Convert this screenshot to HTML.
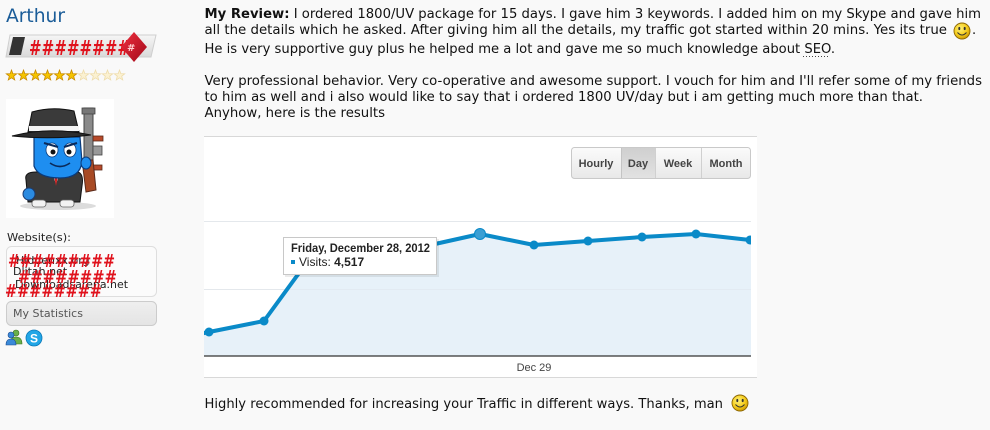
<!DOCTYPE html>
<html>
<head>
<meta charset="utf-8">
<style>
html,body{margin:0;padding:0;background:#f9f9f9;}
body{width:990px;height:430px;overflow:hidden;}
svg{display:block;}
</style>
</head>
<body>
<svg width="990" height="430" viewBox="0 0 990 430" xmlns="http://www.w3.org/2000/svg">
<defs>
  <radialGradient id="smile" cx="40%" cy="35%" r="70%">
    <stop offset="0" stop-color="#fff27a"/>
    <stop offset="0.6" stop-color="#f5cc1c"/>
    <stop offset="1" stop-color="#c99400"/>
  </radialGradient>
  <linearGradient id="btn" x1="0" y1="0" x2="0" y2="1">
    <stop offset="0" stop-color="#fbfbfb"/>
    <stop offset="1" stop-color="#e8e8e8"/>
  </linearGradient>
  <linearGradient id="btnOn" x1="0" y1="0" x2="0" y2="1">
    <stop offset="0" stop-color="#cfcfcf"/>
    <stop offset="1" stop-color="#e2e2e2"/>
  </linearGradient>
  <linearGradient id="rank" x1="0" y1="0" x2="0" y2="1">
    <stop offset="0" stop-color="#f6f6f6"/>
    <stop offset="1" stop-color="#d9d9d9"/>
  </linearGradient>
  <linearGradient id="dia" x1="0" y1="0" x2="1" y2="1">
    <stop offset="0" stop-color="#f03040"/>
    <stop offset="1" stop-color="#a00818"/>
  </linearGradient>
  <linearGradient id="stat" x1="0" y1="0" x2="0" y2="1">
    <stop offset="0" stop-color="#efefef"/>
    <stop offset="1" stop-color="#e4e4e4"/>
  </linearGradient>
  <polygon id="star" points="0,-5.5 1.35,-1.86 5.23,-1.7 2.19,0.71 3.23,4.45 0,2.3 -3.23,4.45 -2.19,0.71 -5.23,-1.7 -1.35,-1.86"/>
  <clipPath id="plot"><rect x="204" y="136" width="547" height="220"/></clipPath>
</defs>

<rect width="990" height="430" fill="#f9f9f9"/>

<!-- ================= SIDEBAR ================= -->
<text x="6" y="22" font-family="'DejaVu Sans', Verdana, sans-serif" font-size="19" fill="#1a5c98" textLength="59" lengthAdjust="spacingAndGlyphs">Arthur</text>

<!-- rank bar -->
<polygon points="10,35 156,35 151,57 6,57" fill="url(#rank)" stroke="#cfcfcf" stroke-width="1"/>
<polygon points="13,37 25,37 21,55 9,55" fill="#333"/>
<text x="29" y="55" font-family="'DejaVu Sans', Verdana, sans-serif" font-weight="bold" font-size="20" fill="#e0121c" textLength="101" lengthAdjust="spacingAndGlyphs">########</text>
<polygon points="134,32 147,47 134,62 121,47" fill="url(#dia)"/>
<text x="127" y="51" font-family="'DejaVu Sans', sans-serif" font-weight="bold" font-size="10" fill="#ffd0d0">#</text>

<!-- stars -->
<g stroke-width="0.8">
  <use href="#star" x="11.5" y="75.5" fill="#f5c400" stroke="#c88a00"/>
  <use href="#star" x="23.5" y="75.5" fill="#f5c400" stroke="#c88a00"/>
  <use href="#star" x="35.5" y="75.5" fill="#f5c400" stroke="#c88a00"/>
  <use href="#star" x="47.5" y="75.5" fill="#f5c400" stroke="#c88a00"/>
  <use href="#star" x="59.5" y="75.5" fill="#f5c400" stroke="#c88a00"/>
  <use href="#star" x="71.5" y="75.5" fill="#f5c400" stroke="#c88a00"/>
  <use href="#star" x="83.5" y="75.5" fill="#fbf1d2" stroke="#eedcaa"/>
  <use href="#star" x="95.5" y="75.5" fill="#fbf1d2" stroke="#eedcaa"/>
  <use href="#star" x="107.5" y="75.5" fill="#fbf1d2" stroke="#eedcaa"/>
  <use href="#star" x="119.5" y="75.5" fill="#fbf1d2" stroke="#eedcaa"/>
</g>

<!-- avatar -->
<rect x="6" y="99" width="108" height="119" fill="#ffffff"/>
<ellipse cx="58" cy="206" rx="38" ry="4" fill="#dcdcdc"/>
<!-- gun -->
<rect x="84" y="108" width="9" height="58" fill="#8a8a8a" stroke="#444" stroke-width="1"/>
<rect x="82" y="108" width="13" height="6" fill="#777" stroke="#444" stroke-width="0.8"/>
<rect x="93" y="136" width="10" height="5" fill="#b84a2a" stroke="#5a2a1a" stroke-width="0.8"/>
<rect x="93" y="146" width="9" height="9" fill="#999" stroke="#444" stroke-width="0.8"/>
<rect x="93" y="165" width="9" height="5" fill="#b84a2a" stroke="#5a2a1a" stroke-width="0.8"/>
<polygon points="82,160 93,160 96,190 86,192" fill="#a84a24" stroke="#5a2a1a" stroke-width="1"/>
<!-- body -->
<path d="M26,180 Q24,172 36,172 L78,172 Q84,174 82,186 L80,202 L28,202 Z" fill="#3a3a3a" stroke="#111" stroke-width="1"/>
<polygon points="52,173 60,173 56,184" fill="#fff"/>
<polygon points="54,176 58,176 56,186" fill="#d02020"/>
<ellipse cx="29" cy="194" rx="6" ry="6" fill="#2a8ae0" stroke="#1a3a70" stroke-width="1"/>
<rect x="32" y="200" width="14" height="7" rx="3" fill="#f2f2f2" stroke="#666" stroke-width="0.8"/>
<rect x="60" y="200" width="14" height="7" rx="3" fill="#f2f2f2" stroke="#666" stroke-width="0.8"/>
<!-- head -->
<path d="M34,137 L80,137 L82,162 Q80,178 60,178 Q38,178 34,166 Z" fill="#1e8ef0" stroke="#0a3a7a" stroke-width="1.2"/>
<ellipse cx="52" cy="150" rx="6" ry="7" fill="#fff" stroke="#0a3a7a" stroke-width="0.8"/>
<ellipse cx="70" cy="150" rx="6" ry="7" fill="#fff" stroke="#0a3a7a" stroke-width="0.8"/>
<circle cx="53" cy="152" r="2.5" fill="#111"/>
<circle cx="69" cy="152" r="2.5" fill="#111"/>
<path d="M44,143 L58,147" stroke="#0a2a5a" stroke-width="2"/>
<path d="M64,147 L77,143" stroke="#0a2a5a" stroke-width="2"/>
<path d="M50,163 Q60,170 70,163" stroke="#0a2a5a" stroke-width="1.6" fill="none"/>
<ellipse cx="86" cy="163" rx="5" ry="6" fill="#1e8ef0" stroke="#0a3a7a" stroke-width="1"/>
<!-- hat -->
<path d="M28,132 L32,112 Q52,106 74,111 L79,132 Z" fill="#3a3a3a" stroke="#111" stroke-width="1"/>
<rect x="29" y="126" width="50" height="5" fill="#f4f4f4"/>
<path d="M12,136 Q50,126 91,135 Q52,140 12,136 Z" fill="#2c2c2c" stroke="#111" stroke-width="1"/>

<!-- websites -->
<text x="7" y="241" font-family="'DejaVu Sans', Verdana, sans-serif" font-size="11" fill="#222" textLength="64" lengthAdjust="spacingAndGlyphs">Website(s):</text>
<rect x="6.5" y="246.5" width="150" height="50" rx="5" fill="#fbfbfb" stroke="#dedede"/>
<g font-family="'DejaVu Sans', Verdana, sans-serif" font-size="11" fill="#222">
  <text x="16" y="264">Hiddenxx.org</text>
  <text x="13" y="275">Dlitah.net</text>
  <text x="15" y="288" textLength="113" lengthAdjust="spacingAndGlyphs">Downloadsarena.net</text>
</g>
<g font-family="'DejaVu Sans', Verdana, sans-serif" font-weight="bold" font-size="18" fill="#e0121c">
  <text x="8" y="267" textLength="107" lengthAdjust="spacingAndGlyphs">#########</text>
  <text x="18" y="283" textLength="99" lengthAdjust="spacingAndGlyphs">########</text>
  <text x="5" y="297" textLength="97" lengthAdjust="spacingAndGlyphs">########</text>
</g>

<!-- my statistics -->
<rect x="6.5" y="301.5" width="150" height="24" rx="5" fill="url(#stat)" stroke="#cccccc"/>
<text x="13" y="317" font-family="'DejaVu Sans', Verdana, sans-serif" font-size="11" fill="#555" textLength="70" lengthAdjust="spacingAndGlyphs">My Statistics</text>

<!-- msn icon -->
<circle cx="16" cy="333" r="3" fill="#6ab04a" stroke="#3a7020" stroke-width="0.6"/>
<path d="M10,344 Q10,337 16,337 Q22,337 22,344 Z" fill="#6ab04a" stroke="#3a7020" stroke-width="0.6"/>
<circle cx="11" cy="335" r="3" fill="#3a8ad8" stroke="#1a4a90" stroke-width="0.6"/>
<path d="M6,345 Q6,339 11,339 Q16,339 16,345 Z" fill="#3a8ad8" stroke="#1a4a90" stroke-width="0.6"/>
<!-- skype icon -->
<circle cx="34" cy="338" r="8" fill="#22a6e6" stroke="#0a78b8" stroke-width="0.8"/>
<text x="34" y="342.5" text-anchor="middle" font-family="'Liberation Sans', Arial, sans-serif" font-weight="bold" font-size="12" fill="#fff">S</text>

<!-- ================= REVIEW TEXT ================= -->
<g font-family="'DejaVu Sans', Verdana, sans-serif" font-size="13" fill="#111">
  <text x="204.5" y="18" textLength="776.5" lengthAdjust="spacingAndGlyphs"><tspan font-weight="bold">My Review:</tspan> I ordered 1800/UV package for 15 days. I gave him 3 keywords. I added him on my Skype and gave him</text>
  <text x="204.5" y="34" textLength="742.5" lengthAdjust="spacingAndGlyphs">all the details which he asked. After giving him all the details, my traffic got started within 20 mins. Yes its true</text>
  <text x="972" y="34">.</text>
  <text x="204.5" y="53" textLength="630.5" lengthAdjust="spacingAndGlyphs">He is very supportive guy plus he helped me a lot and gave me so much knowledge about SEO.</text>
  <text x="204.5" y="85" textLength="777.5" lengthAdjust="spacingAndGlyphs">Very professional behavior. Very co-operative and awesome support. I vouch for him and I'll refer some of my friends</text>
  <text x="204.5" y="101" textLength="718.5" lengthAdjust="spacingAndGlyphs">to him as well and i also would like to say that i ordered 1800 UV/day but i am getting much more than that.</text>
  <text x="204.5" y="117" textLength="180.5" lengthAdjust="spacingAndGlyphs">Anyhow, here is the results</text>
  <text x="204.5" y="408" textLength="518.5" lengthAdjust="spacingAndGlyphs">Highly recommended for increasing your Traffic in different ways. Thanks, man</text>
</g>
<line x1="803" y1="56.5" x2="829" y2="56.5" stroke="#444" stroke-width="1" stroke-dasharray="1,2"/>

<!-- smileys -->
<g>
  <circle cx="962" cy="31" r="8" fill="url(#smile)" stroke="#8a6400" stroke-width="0.9"/>
  <ellipse cx="959.3" cy="28.5" rx="1" ry="1.6" fill="#333"/>
  <ellipse cx="964.7" cy="28.5" rx="1" ry="1.6" fill="#333"/>
  <path d="M957.5,32.5 Q962,37.5 966.5,32.5" stroke="#333" stroke-width="1" fill="none"/>
</g>
<g>
  <circle cx="740" cy="403" r="8" fill="url(#smile)" stroke="#8a6400" stroke-width="0.9"/>
  <ellipse cx="737.3" cy="400.5" rx="1" ry="1.6" fill="#333"/>
  <ellipse cx="742.7" cy="400.5" rx="1" ry="1.6" fill="#333"/>
  <path d="M735.5,404.5 Q740,409.5 744.5,404.5" stroke="#333" stroke-width="1" fill="none"/>
</g>

<!-- ================= CHART ================= -->
<rect x="204" y="136" width="553" height="241" fill="#ffffff"/>
<line x1="204" y1="136.5" x2="757" y2="136.5" stroke="#d8d8d8"/>
<line x1="204" y1="377.5" x2="757" y2="377.5" stroke="#d8d8d8"/>
<line x1="204" y1="221.5" x2="751" y2="221.5" stroke="#ebebeb"/>
<line x1="204" y1="289.5" x2="751" y2="289.5" stroke="#ebebeb"/>

<g clip-path="url(#plot)">
  <polygon points="204,333 209,332 264,321 318,247 372,243 426,246 480,234 534,245 588,241 642,237 696,234 750,240 751,240 751,356 204,356" fill="#e7f1f9"/>
  <line x1="204" y1="289.5" x2="751" y2="289.5" stroke="#dfe6ec" stroke-opacity="0.6"/>
  <line x1="204" y1="221.5" x2="751" y2="221.5" stroke="#dfe6ec" stroke-opacity="0.6"/>
  <polyline points="200,334 209,332 264,321 318,247 372,243 426,246 480,234 534,245 588,241 642,237 696,234 750,240 755,241" fill="none" stroke="#0a8ac8" stroke-width="4" stroke-linejoin="round"/>
  <g fill="#0a8ac8">
    <circle cx="209" cy="332" r="4.5"/>
    <circle cx="264" cy="321" r="4.5"/>
    <circle cx="318" cy="247" r="4.5"/>
    <circle cx="372" cy="243" r="4.5"/>
    <circle cx="426" cy="246" r="4.5"/>
    <circle cx="534" cy="245" r="4.5"/>
    <circle cx="588" cy="241" r="4.5"/>
    <circle cx="642" cy="237" r="4.5"/>
    <circle cx="696" cy="234" r="4.5"/>
    <circle cx="750" cy="240" r="4.5"/>
  </g>
  <circle cx="480" cy="234" r="5.5" fill="#3a9fd4" stroke="#0a8ac8" stroke-width="1"/>
</g>
<line x1="204" y1="356" x2="751" y2="356" stroke="#333" stroke-width="1.2"/>

<text x="534" y="371" text-anchor="middle" font-family="'Liberation Sans', Arial, sans-serif" font-size="11" fill="#444">Dec 29</text>

<!-- buttons -->
<rect x="571.5" y="147.5" width="179" height="31" rx="3" fill="url(#btn)" stroke="#c9c9c9"/>
<rect x="621" y="148" width="34" height="30" fill="url(#btnOn)"/>
<line x1="621.5" y1="148" x2="621.5" y2="178" stroke="#c4c4c4"/>
<line x1="655.5" y1="148" x2="655.5" y2="178" stroke="#d0d0d0"/>
<line x1="701.5" y1="148" x2="701.5" y2="178" stroke="#d0d0d0"/>
<g font-family="'Liberation Sans', Arial, sans-serif" font-weight="bold" font-size="11" fill="#444" text-anchor="middle">
  <text x="596" y="167">Hourly</text>
  <text x="638" y="167">Day</text>
  <text x="678" y="167">Week</text>
  <text x="726" y="167">Month</text>
</g>

<!-- tooltip -->
<rect x="285" y="239" width="154" height="38" fill="#000" fill-opacity="0.08"/>
<rect x="283.5" y="237.5" width="153" height="37" fill="#ffffff" stroke="#c8c8c8"/>
<text x="291" y="252" font-family="'Liberation Sans', Arial, sans-serif" font-weight="bold" font-size="12" fill="#222" textLength="139" lengthAdjust="spacingAndGlyphs">Friday, December 28, 2012</text>
<rect x="291" y="260" width="4" height="4" fill="#0a8ac8"/>
<text x="299" y="266" font-family="'Liberation Sans', Arial, sans-serif" font-size="12" fill="#222">Visits: <tspan font-weight="bold">4,517</tspan></text>
</svg>
</body>
</html>
